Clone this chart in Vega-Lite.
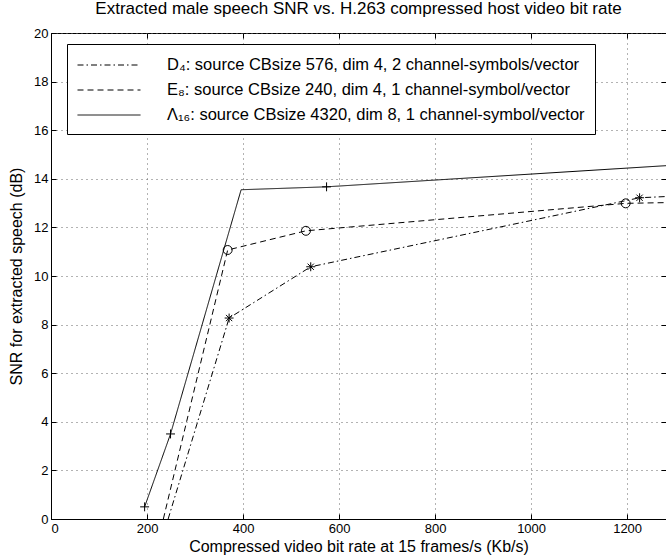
{
  "$schema": "https://vega.github.io/schema/vega-lite/v6.json",
  "width": 615,
  "height": 486,
  "autosize": {"type": "none"},
  "padding": {"left": 51, "top": 33, "right": 0, "bottom": 41},
  "background": "white",
  "title": {
    "text": "Extracted male speech SNR vs. H.263 compressed host video bit rate",
    "font": "Liberation Sans",
    "fontSize": 17,
    "fontWeight": "normal",
    "color": "black",
    "anchor": "middle",
    "offset": 9
  },
  "config": {
    "view": {"stroke": "black", "strokeWidth": 1},
    "axis": {
      "domainColor": "black",
      "tickColor": "black",
      "labelColor": "black",
      "titleColor": "black",
      "labelFont": "Liberation Sans",
      "titleFont": "Liberation Sans",
      "labelFontSize": 13,
      "titleFontSize": 16,
      "titleFontWeight": "normal",
      "gridColor": "#666",
      "gridDash": [1, 4],
      "gridOpacity": 1
    }
  },
  "data": {
    "values": [
      {"series": "D₄: source CBsize 576, dim 4, 2 channel-symbols/vector", "mk": "D4", "x": 244, "y": 0, "m": 0},
      {"series": "D₄: source CBsize 576, dim 4, 2 channel-symbols/vector", "mk": "D4", "x": 371, "y": 8.27, "m": 1},
      {"series": "D₄: source CBsize 576, dim 4, 2 channel-symbols/vector", "mk": "D4", "x": 541, "y": 10.38, "m": 1},
      {"series": "D₄: source CBsize 576, dim 4, 2 channel-symbols/vector", "mk": "D4", "x": 1226, "y": 13.22, "m": 1},
      {"series": "D₄: source CBsize 576, dim 4, 2 channel-symbols/vector", "mk": "D4", "x": 1281, "y": 13.27, "m": 0},
      {"series": "E₈: source CBsize 240, dim 4, 1 channel-symbol/vector", "mk": "E8", "x": 234, "y": 0, "m": 0},
      {"series": "E₈: source CBsize 240, dim 4, 1 channel-symbol/vector", "mk": "E8", "x": 368, "y": 11.07, "m": 1},
      {"series": "E₈: source CBsize 240, dim 4, 1 channel-symbol/vector", "mk": "E8", "x": 531, "y": 11.86, "m": 1},
      {"series": "E₈: source CBsize 240, dim 4, 1 channel-symbol/vector", "mk": "E8", "x": 1197, "y": 12.99, "m": 1},
      {"series": "E₈: source CBsize 240, dim 4, 1 channel-symbol/vector", "mk": "E8", "x": 1281, "y": 13.02, "m": 0},
      {"series": "Λ₁₆: source CBsize 4320, dim 8, 1 channel-symbol/vector", "mk": "L16", "x": 195, "y": 0.5, "m": 1},
      {"series": "Λ₁₆: source CBsize 4320, dim 8, 1 channel-symbol/vector", "mk": "L16", "x": 249, "y": 3.5, "m": 1},
      {"series": "Λ₁₆: source CBsize 4320, dim 8, 1 channel-symbol/vector", "mk": "L16", "x": 396, "y": 13.55, "m": 0},
      {"series": "Λ₁₆: source CBsize 4320, dim 8, 1 channel-symbol/vector", "mk": "L16", "x": 574, "y": 13.67, "m": 1},
      {"series": "Λ₁₆: source CBsize 4320, dim 8, 1 channel-symbol/vector", "mk": "L16", "x": 1281, "y": 14.54, "m": 0}
    ]
  },
  "layer": [
    {
      "mark": {"type": "line", "color": "black", "strokeWidth": 1, "clip": true},
      "encoding": {
        "x": {
          "field": "x",
          "type": "quantitative",
          "scale": {"domain": [0, 1281], "nice": false, "zero": false},
          "axis": {
            "title": "Compressed video bit rate at 15 frames/s (Kb/s)",
            "values": [0, 200, 400, 600, 800, 1000, 1200],
            "format": "d",
            "tickSize": -5,
            "labelPadding": 8,
            "titlePadding": 3
          }
        },
        "y": {
          "field": "y",
          "type": "quantitative",
          "scale": {"domain": [0, 20], "nice": false},
          "axis": {
            "title": "SNR for extracted speech (dB)",
            "values": [0, 2, 4, 6, 8, 10, 12, 14, 16, 18, 20],
            "tickSize": -5,
            "labelPadding": 8,
            "titlePadding": 9
          }
        },
        "strokeDash": {
          "field": "series",
          "type": "nominal",
          "sort": null,
          "scale": {
            "domain": [
              "D₄: source CBsize 576, dim 4, 2 channel-symbols/vector",
              "E₈: source CBsize 240, dim 4, 1 channel-symbol/vector",
              "Λ₁₆: source CBsize 4320, dim 8, 1 channel-symbol/vector"
            ],
            "range": [[6, 3, 1.5, 3], [6, 4], [1, 0]]
          },
          "legend": {
            "title": null,
            "orient": "none",
            "legendX": 16,
            "legendY": 11,
            "direction": "vertical",
            "strokeColor": "black",
            "fillColor": "white",
            "padding": 10,
            "symbolType": "M-3,0L3,0",
            "symbolSize": 441,
            "symbolOffset": 21,
            "symbolStrokeWidth": 1,
            "symbolStrokeColor": "black",
            "symbolFillColor": "transparent",
            "labelFont": "Liberation Sans",
            "labelFontSize": 16.5,
            "labelColor": "black",
            "labelOffset": 47,
            "labelLimit": 0,
            "rowPadding": 5
          }
        }
      }
    },
    {
      "transform": [{"filter": "datum.m == 1"}],
      "mark": {"type": "point", "color": "black", "filled": false, "strokeWidth": 1, "opacity": 1},
      "encoding": {
        "x": {
          "field": "x",
          "type": "quantitative",
          "axis": {
            "orient": "top",
            "values": [0, 200, 400, 600, 800, 1000, 1200],
            "labels": false,
            "title": null,
            "grid": false,
            "domain": false,
            "tickSize": -5
          }
        },
        "y": {
          "field": "y",
          "type": "quantitative",
          "axis": {
            "orient": "right",
            "values": [0, 2, 4, 6, 8, 10, 12, 14, 16, 18, 20],
            "labels": false,
            "title": null,
            "grid": false,
            "domain": false,
            "tickSize": -5
          }
        },
        "shape": {
          "field": "mk",
          "type": "nominal",
          "scale": {
            "domain": ["D4", "E8", "L16"],
            "range": [
              "M-1,0L1,0M0,-1L0,1M-0.7,-0.7L0.7,0.7M-0.7,0.7L0.7,-0.7",
              "circle",
              "M-1,0L1,0M0,-1L0,1"
            ]
          },
          "legend": null
        },
        "size": {
          "field": "mk",
          "type": "nominal",
          "scale": {"domain": ["D4", "E8", "L16"], "range": [80, 80, 100]},
          "legend": null
        }
      }
    }
  ],
  "resolve": {"axis": {"x": "independent", "y": "independent"}}
}
